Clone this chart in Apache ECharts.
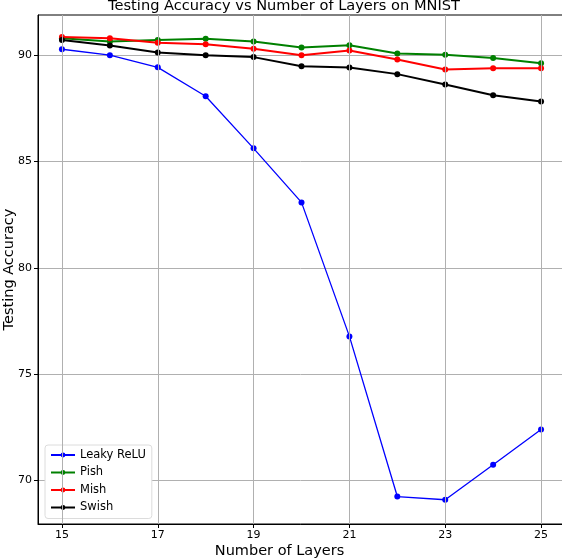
<!DOCTYPE html>
<html>
<head>
<meta charset="utf-8">
<script src="https://cdn.jsdelivr.net/npm/echarts@6/dist/echarts.min.js"></script>
<style>
  html, body { margin: 0; padding: 0; background: #fff; }
  #chart { width: 562px; height: 560px; }
</style>
</head>
<body>
<div id="chart"></div>
<script>
// data
var layers = [15, 16, 17, 18, 19, 20, 21, 22, 23, 24, 25];
var leakyRelu = [90.28, 90.0, 89.43, 88.07, 85.62, 83.08, 76.78, 69.25, 69.1, 70.75, 72.4];
var pish = [90.8, 90.64, 90.72, 90.77, 90.64, 90.36, 90.47, 90.08, 90.02, 89.87, 89.62];
var mish = [90.85, 90.8, 90.58, 90.52, 90.3, 90.0, 90.22, 89.8, 89.33, 89.39, 89.39];
var swish = [90.71, 90.46, 90.13, 90.0, 89.91, 89.48, 89.42, 89.11, 88.62, 88.12, 87.82];
var xTicks = [15, 17, 19, 21, 23, 25];
var yTicks = [70, 75, 80, 85, 90];

var font = "DejaVu Sans";
var chart = echarts.init(document.getElementById("chart"));

function pairs(vals) {
  return layers.map(function (x, i) { return [x, vals[i]]; });
}

function lineSeries(name, vals, color, width) {
  return {
    name: name,
    type: "line",
    data: pairs(vals),
    symbol: "circle",
    symbolSize: 6,
    showSymbol: true,
    z: 3,
    lineStyle: { color: color, width: width },
    itemStyle: { color: color },
  };
}

// vertical grid only at the labelled x ticks
var xGrid = {
  name: "xgrid",
  type: "line",
  data: [],
  z: 1,
  silent: true,
  markLine: {
    silent: true,
    symbol: ["none", "none"],
    label: { show: false },
    lineStyle: { color: "#b0b0b0", width: 1, type: "solid" },
    data: xTicks.map(function (v) { return { xAxis: v }; }),
  },
};

var option = {
  animation: false,
  title: {
    text: "Testing Accuracy vs Number of Layers on MNIST",
    left: 279,
    textAlign: "center",
    top: -6,
    textStyle: { fontFamily: font, fontSize: 14.6, fontWeight: "normal", color: "#000" },
  },
  grid: {
    left: 38,
    top: 15,
    right: -3,
    bottom: 36,
    outerBoundsMode: "none",
    containLabel: false,
    show: true,
    borderColor: "#000",
    borderWidth: 1,
  },
  legend: {
    orient: "vertical",
    left: 45,
    top: 445,
    itemWidth: 24,
    itemHeight: 6,
    itemGap: 5.5,
    padding: [4, 6, 5, 5],
    backgroundColor: "#fff",
    borderColor: "#dcdcdc",
    borderWidth: 1,
    borderRadius: 3,
    textStyle: { fontFamily: font, fontSize: 11.5, color: "#000" },
    data: ["Leaky ReLU", "Pish", "Mish", "Swish"],
  },
  xAxis: {
    type: "value",
    min: 14.5,
    max: 25.5,
    name: "Number of Layers",
    nameLocation: "middle",
    nameGap: 20,
    nameMoveOverlap: false,
    nameTextStyle: { fontFamily: font, fontSize: 14.5, color: "#000", padding: [0, 44, 0, 0] },
    axisLine: { show: true, lineStyle: { color: "#000" } },
    axisTick: { show: true, customValues: xTicks, length: 4, lineStyle: { color: "#000" } },
    axisLabel: { customValues: xTicks, fontFamily: font, fontSize: 11, color: "#000", margin: 6 },
    splitLine: { show: false },
  },
  yAxis: {
    type: "value",
    min: 67.96,
    max: 91.89,
    name: "Testing Accuracy",
    nameLocation: "middle",
    nameGap: 21,
    nameMoveOverlap: false,
    nameTextStyle: { fontFamily: font, fontSize: 14.5, color: "#000" },
    axisLine: { show: true, lineStyle: { color: "#000" } },
    axisTick: { show: true, customValues: yTicks, length: 4, lineStyle: { color: "#000" } },
    axisLabel: { customValues: yTicks, fontFamily: font, fontSize: 11, color: "#000", margin: 6 },
    splitLine: { show: true, lineStyle: { color: "#b0b0b0", width: 1 } },
  },
  series: [
    xGrid,
    lineSeries("Leaky ReLU", leakyRelu, "#0000ff", 1.3),
    lineSeries("Pish", pish, "#008000", 2),
    lineSeries("Mish", mish, "#ff0000", 2),
    lineSeries("Swish", swish, "#000000", 2),
  ],
};
chart.setOption(option);
</script>
</body>
</html>
